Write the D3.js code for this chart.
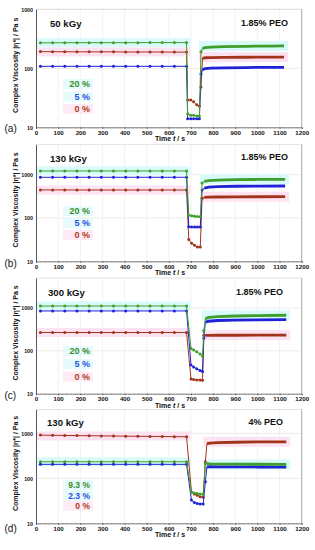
<!DOCTYPE html>
<html><head><meta charset="utf-8">
<script src="https://cdn.jsdelivr.net/npm/d3@7"></script>
<style>
body{margin:0;background:#fff}
svg{display:block}
text{font-family:"Liberation Sans",Arial,Helvetica,sans-serif}
</style>
</head><body>
<svg id="chart" width="315" height="550"></svg>
<script>
// ---------------- DATA ----------------
const xTicks = [0,100,200,300,400,500,600,700,800,900,1000,1100,1200];
const yTicks = [10,100,1000];
const holdTime = [20,75,130,185,240,295,350,405,460,515,570,625,680];

const doseLabels = ["50 kGy","130 kGy","300 kGy","130 kGy"];
const peoLabels = ["1.85% PEO","1.85% PEO","1.85% PEO","4% PEO"];
const panelTags = ["(a)","(b)","(c)","(d)"];
const legendA = ["20 %","5 %","0 %"];
const legendB = ["20 %","5 %","0 %"];
const legendC = ["20 %","5 %","0 %"];
const legendD = ["9.3 %","2.3 %","0 %"];
const yDomainA = [10,1000];
const yDomainB = [10,5000];
const yDomainC = [10,5000];
const yDomainD = [10,3400];

// (a) 50 kGy, series order: green, blue, red
const aGreenHold = [270,271,271,272,272,272,272,272,272,273,273,273,273];
const aBlueHold  = [108,108,108,108,108,108,108,108,108,108,108,108,108];
const aRedHold   = [192,191,191,190,190,190,190,189,189,189,189,188,188];
const aDropTime  = [685,699,712,726,738];
const aGreenDrop = [17,16,16,15.5,15.5];
const aBlueDrop  = [14,14,14,14,14];
const aRedDrop   = [29,29,27,24,23];
const aRecTime   = [745,752,765,790,850,950,1050,1120];
const aGreenRec  = [190,218,225,229,233,236,238,239];
const aBlueRec   = [80,95,99,101,102,103,104,104];
const aRedRec    = [48,148,151,152,153,154,155,155];

// (b) 130 kGy
const bGreenHold = [1215,1215,1217,1217,1217,1217,1218,1218,1218,1218,1218,1218,1218];
const bBlueHold  = [870,870,871,871,871,871,871,871,871,871,871,871,871];
const bRedHold   = [445,444,444,443,443,443,443,443,443,443,443,443,443];
const bDropTime  = [690,703,716,729,742];
const bGreenDrop = [115,113,110,108,107];
const bBlueDrop  = [63,62,62,62,62];
const bRedDrop   = [32,26,23.5,21.5,21.5];
const bRecTime   = [750,760,780,820,900,1000,1125];
const bGreenRec  = [640,700,730,750,765,775,783];
const bBlueRec   = [440,490,515,530,540,545,548];
const bRedRec    = [285,298,302,305,307,309,310];

// (c) 300 kGy
const cGreenHold = [1110,1110,1112,1112,1113,1113,1113,1113,1113,1113,1113,1113,1113];
const cBlueHold  = [850,851,851,852,852,852,852,852,852,852,852,852,852];
const cRedHold   = [268,268,268,268,268,268,268,268,268,268,268,268,268];
const cDropTime  = [700,712,726,741,752];
const cGreenDrop = [114,105,95,84,75];
const cBlueDrop  = [47,42,38,35,33];
const cRedDrop   = [22,21.5,21,21,20.5];
const cRecTime   = [758,765,780,820,900,1000,1130];
const cGreenRec  = [300,560,600,630,650,665,676];
const cBlueRec   = [200,470,490,510,522,530,537];
const cRedRec    = [232,230,230,231,231,232,232];

// (d) 130 kGy, 4% PEO
const dGreenHold = [234,234,234,234,234,234,234,234,234,234,234,234,234];
const dBlueHold  = [205,205,205,205,205,205,205,205,205,205,205,205,205];
const dRedHold   = [917,905,900,893,887,880,874,868,862,857,852,846,841];
const dDropTime  = [702,715,728,741,755];
const dGreenDrop = [49,47,46,45,44];
const dBlueDrop  = [33,29,27.5,27,27];
const dRedDrop   = [50,45,42,39,38];
const dRecTime   = [765,772,785,820,900,1000,1130];
const dGreenRec  = [215,212,210,208,207,206,205];
const dBlueRec   = [84,180,181,180,180,179,178];
const dRedRec    = [234,590,610,625,635,645,650];

// ---------------- BUILD ----------------
const panelData = [
  {dom:yDomainA, legend:legendA, hold:[aGreenHold,aBlueHold,aRedHold], dropT:aDropTime, drop:[aGreenDrop,aBlueDrop,aRedDrop], recT:aRecTime, rec:[aGreenRec,aBlueRec,aRedRec]},
  {dom:yDomainB, legend:legendB, hold:[bGreenHold,bBlueHold,bRedHold], dropT:bDropTime, drop:[bGreenDrop,bBlueDrop,bRedDrop], recT:bRecTime, rec:[bGreenRec,bBlueRec,bRedRec]},
  {dom:yDomainC, legend:legendC, hold:[cGreenHold,cBlueHold,cRedHold], dropT:cDropTime, drop:[cGreenDrop,cBlueDrop,cRedDrop], recT:cRecTime, rec:[cGreenRec,cBlueRec,cRedRec]},
  {dom:yDomainD, legend:legendD, hold:[dGreenHold,dBlueHold,dRedHold], dropT:dDropTime, drop:[dGreenDrop,dBlueDrop,dRedDrop], recT:dRecTime, rec:[dGreenRec,dBlueRec,dRedRec]}
];

const layout = [
  {top:9.3,  bottom:127.3, titleX:50, titleY:27,    peoX:288, peoY:25.5, legY:[84,96.7,109],     legSize:9,   tagY:132},
  {top:144.4,bottom:261.3, titleX:50, titleY:161.5, peoX:288, peoY:160,  legY:[211,223.3,235],   legSize:9,   tagY:267},
  {top:278,  bottom:393.7, titleX:48, titleY:295.5, peoX:283, peoY:295,  legY:[351,364,376.7],   legSize:9,   tagY:399},
  {top:409.5,bottom:523.3, titleX:47, titleY:426,   peoX:283, peoY:425,  legY:[485,495.7,505.7], legSize:8.5, tagY:532}
];

const lineColors = ["#3f9e2c","#1f22d6","#a3341c"];
const textColors = ["#3b8a2a","#2b4fe0","#b03a22"];
const bandColors = ["#d9fafa", null, "#fde3f1"];

const svg = d3.select("#chart");
const x = d3.scaleLinear().domain([0,1200]).range([36,301.7]);

panelData.forEach((pd, pi) => {
  const L = layout[pi];
  const y = d3.scaleLog().domain(pd.dom).range([L.bottom, L.top]);
  const g = svg.append("g");

  // grid
  g.selectAll(".vg").data(xTicks.slice(1)).join("line")
    .attr("x1", d=>x(d)).attr("x2", d=>x(d)).attr("y1", L.top).attr("y2", L.bottom)
    .attr("stroke","#e8e8e8").attr("stroke-width",0.6);
  g.selectAll(".hg").data(yTicks.filter(t=>t>pd.dom[0])).join("line")
    .attr("x1", x(0)).attr("x2", x(1200)).attr("y1", d=>y(d)).attr("y2", d=>y(d))
    .attr("stroke","#e2e2e2").attr("stroke-width",0.7);
  // frame top/right
  g.append("line").attr("x1",x(0)).attr("x2",x(1200)).attr("y1",L.top).attr("y2",L.top).attr("stroke","#d6d6d6").attr("stroke-width",0.7);
  g.append("line").attr("x1",x(1200)).attr("x2",x(1200)).attr("y1",L.top).attr("y2",L.bottom).attr("stroke","#9a9a9a").attr("stroke-width",0.8);

  // bands (highlight behind series)
  [2,0].forEach(si => {
    if (!bandColors[si]) return;
    const hv = d3.mean(pd.hold[si]);
    g.append("rect").attr("x", x(holdTime[0])-4).attr("width", x(holdTime[holdTime.length-1])-x(holdTime[0])+8)
      .attr("y", y(hv)-4.5).attr("height", 9).attr("fill", bandColors[si]);
    const rv = pd.rec[si][pd.rec[si].length-1];
    g.append("rect").attr("x", x(pd.recT[0])-2).attr("width", x(pd.recT[pd.recT.length-1])-x(pd.recT[0])+6)
      .attr("y", y(rv)-5).attr("height", 10).attr("fill", bandColors[si]);
  });

  // axes
  const xAxis = d3.axisBottom(x).tickValues(xTicks).tickSize(1.5).tickPadding(1.7).tickFormat(d3.format("d"));
  const xa = g.append("g").attr("transform",`translate(0,${L.bottom})`).call(xAxis);
  xa.select(".domain").attr("stroke","#555").attr("stroke-width",0.8);
  xa.selectAll(".tick line").attr("stroke","#555");
  xa.selectAll("text").attr("font-size",6.2).attr("font-weight","bold").attr("fill","#111");
  // minor ticks
  const minor = d3.range(0,1201,20).filter(v=>v%100!==0);
  g.selectAll(".mt").data(minor).join("line")
    .attr("x1",d=>x(d)).attr("x2",d=>x(d)).attr("y1",L.bottom).attr("y2",L.bottom+1)
    .attr("stroke","#777").attr("stroke-width",0.5);

  const yAxis = d3.axisLeft(y).tickValues(yTicks).tickSize(0).tickPadding(3).tickFormat(d3.format("d"));
  const ya = g.append("g").attr("transform",`translate(${x(0)},0)`).call(yAxis);
  ya.select(".domain").attr("stroke","#444").attr("stroke-width",0.9);
  ya.selectAll("text").attr("font-size",5.3).attr("font-weight","bold").attr("fill","#111");

  // axis titles
  const xt = g.append("text").attr("x",170).attr("y",L.bottom+14).attr("text-anchor","middle")
    .attr("font-size",7).attr("font-weight","bold").attr("fill","#111");
  xt.append("tspan").text("Time ");
  xt.append("tspan").attr("font-style","italic").text("t");
  xt.append("tspan").text(" / s");

  const cy = (L.top+L.bottom)/2 - 3;
  g.append("text").attr("transform",`translate(17.5,${cy}) rotate(-90)`).attr("text-anchor","middle")
    .attr("font-size",7).attr("font-weight","bold").attr("fill","#111")
    .text("Complex Viscosity |η*| / Pa s");

  g.append("text").attr("x",4.5).attr("y",L.tagY).attr("font-size",10).attr("fill","#111").text(panelTags[pi]);

  // titles
  g.append("text").attr("x",L.titleX).attr("y",L.titleY).attr("font-size",9.6).attr("font-weight","bold").attr("fill","#111").text(doseLabels[pi]);
  g.append("text").attr("x",L.peoX).attr("y",L.peoY).attr("text-anchor","end").attr("font-size",9).attr("font-weight","bold").attr("fill","#111").text(peoLabels[pi]);

  // series (draw red, blue, green)
  [2,1,0].forEach(si => {
    const pts = holdTime.map((t,i)=>[t,pd.hold[si][i]])
      .concat(pd.dropT.map((t,i)=>[t,pd.drop[si][i]]))
      .concat(pd.recT.map((t,i)=>[t,pd.rec[si][i]]));
    const line = d3.line().x(d=>x(d[0])).y(d=>y(d[1]));
    g.append("path").attr("d", line(pts)).attr("fill","none").attr("stroke",lineColors[si]).attr("stroke-width",1);
    const recPts = pd.recT.slice(1).map((t,i)=>[t,pd.rec[si][i+1]]);
    g.append("path").attr("d", line(recPts)).attr("fill","none").attr("stroke",lineColors[si]).attr("stroke-width",2.8);
    const markPts = holdTime.map((t,i)=>[t,pd.hold[si][i]])
      .concat(pd.dropT.map((t,i)=>[t,pd.drop[si][i]]))
      .concat([[pd.recT[0], pd.rec[si][0]]]);
    g.selectAll(null).data(markPts).join("circle")
      .attr("cx",d=>x(d[0])).attr("cy",d=>y(d[1])).attr("r",1.5).attr("fill",lineColors[si]);
  });

  // legend
  pd.legend.forEach((lab, i) => {
    const bg = i===2 ? "#fde3f1" : "#dcfafa";
    g.append("rect").attr("x",63).attr("y",L.legY[i]-5).attr("width",30).attr("height",10).attr("fill",bg).attr("opacity",0.7);
    g.append("text").attr("x",90).attr("y",L.legY[i]).attr("dy","0.35em").attr("text-anchor","end")
      .attr("font-size",L.legSize).attr("font-weight","bold").attr("fill",textColors[i]).text(lab);
  });
});
</script>
</body></html>
